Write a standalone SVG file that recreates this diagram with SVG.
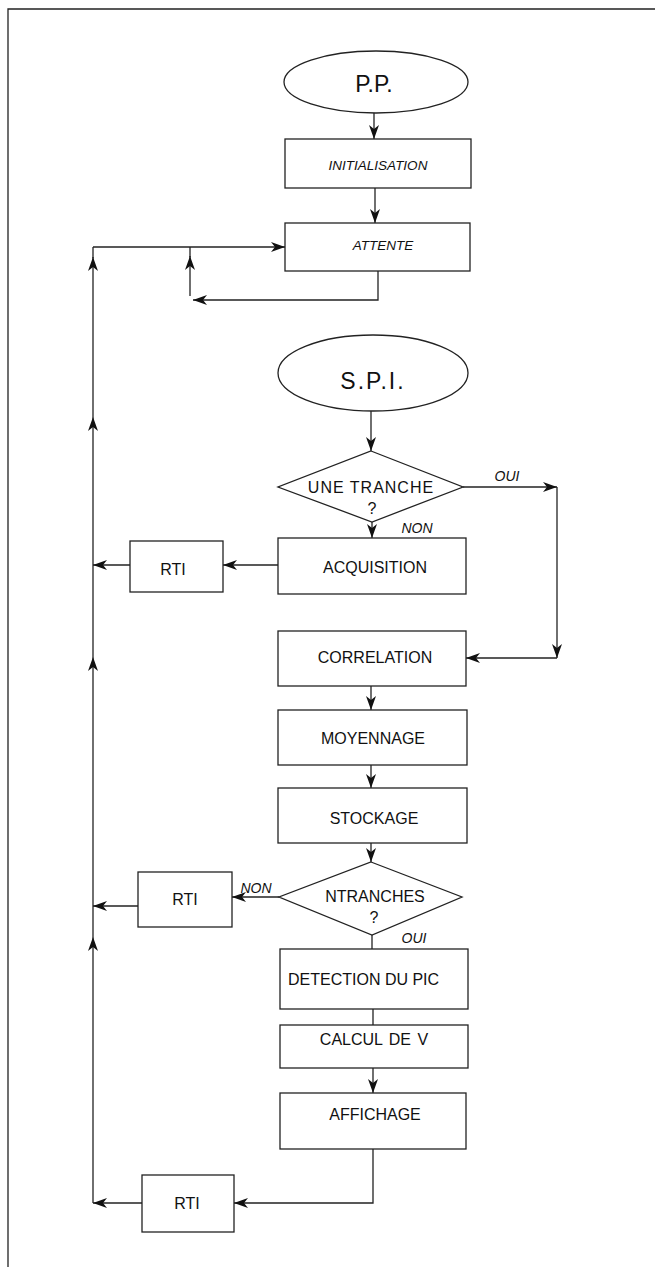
<svg xmlns="http://www.w3.org/2000/svg" width="655" height="1267" viewBox="0 0 655 1267">
<defs>
<marker id="arr" markerWidth="15" markerHeight="11" refX="14" refY="5" orient="auto" markerUnits="userSpaceOnUse">
<path d="M0,0 L14,5 L0,10 L4,5 z" fill="#111"/>
</marker>
<style>
.box{fill:#fff;stroke:#222;stroke-width:1.3}
.ln{fill:none;stroke:#222;stroke-width:1.3}
.ar{fill:none;stroke:#222;stroke-width:1.3;marker-end:url(#arr)}
.t{font-family:"Liberation Sans",Arial,sans-serif;font-size:16px;fill:#111;text-anchor:middle}
.it{font-family:"Liberation Sans",Arial,sans-serif;font-style:italic;font-size:13.5px;fill:#111;text-anchor:middle}
.lbl{font-family:"Liberation Sans",Arial,sans-serif;font-style:italic;font-size:14px;fill:#111;text-anchor:middle}
.big{font-family:"Liberation Sans",Arial,sans-serif;font-size:23px;fill:#111;text-anchor:middle}
</style>
</defs>
<rect width="655" height="1267" fill="#fff"/>
<g id="frame">
<path class="ln" d="M655,9 L8,9 L8,1267" stroke="#555"/>
</g>
<g id="connectors">
<path class="ar" d="M374,113 L374,139"/>
<path class="ar" d="M375,188 L375,223"/>
<path class="ar" d="M378,271 L378,300 L193,300"/>
<path class="ar" d="M190,296 L190,256"/>
<path class="ln" d="M190,257 L190,247"/>
<path class="ar" d="M93,247 L285,247"/>
<path class="ar" d="M93,1203 L93,937"/>
<path class="ar" d="M93,937 L93,657"/>
<path class="ar" d="M93,657 L93,417"/>
<path class="ar" d="M93,417 L93,257"/>
<path class="ln" d="M93,258 L93,247"/>
<path class="ar" d="M371,411 L371,451"/>
<path class="ar" d="M463,487 L557,487"/>
<path class="ar" d="M557,487 L557,658"/>
<path class="ar" d="M557,658 L466,658"/>
<path class="ar" d="M372,522 L372,538"/>
<path class="ar" d="M278,565 L223,565"/>
<path class="ar" d="M130,565 L93,565"/>
<path class="ar" d="M371,686 L371,710"/>
<path class="ar" d="M371,765 L371,788"/>
<path class="ar" d="M371,843 L371,862"/>
<path class="ar" d="M279,897 L232,897"/>
<path class="ar" d="M138,906 L93,906"/>
<path class="ln" d="M372,935 L372,949"/>
<path class="ln" d="M373,1009 L373,1025"/>
<path class="ar" d="M373,1068 L373,1093"/>
<path class="ar" d="M373,1149 L373,1203 L234,1203"/>
<path class="ar" d="M142,1203 L93,1203"/>
</g>
<g id="pp">
<ellipse class="box" cx="376" cy="82" rx="92" ry="31"/>
<text class="big" x="374" y="92">P.P.</text>
</g>
<g id="initialisation">
<rect class="box" x="285" y="139" width="186" height="49"/>
<text class="it" x="378" y="170">INITIALISATION</text>
</g>
<g id="attente">
<rect class="box" x="285" y="223" width="185" height="48"/>
<text class="it" x="383" y="250">ATTENTE</text>
</g>
<g id="spi">
<ellipse class="box" cx="373" cy="373" rx="95" ry="38"/>
<text class="big" x="373" y="389" font-size="24" letter-spacing="2">S.P.I.</text>
</g>
<g id="une-tranche">
<polygon class="box" points="371,451 463,487 372,522 278,487"/>
<text class="t" x="371" y="493" letter-spacing="1">UNE TRANCHE</text>
<text class="t" x="372" y="514" font-size="15">?</text>
<text class="lbl" x="417" y="533">NON</text>
<text class="lbl" x="507" y="481">OUI</text>
</g>
<g id="acquisition">
<rect class="box" x="278" y="538" width="188" height="56"/>
<text class="t" x="375" y="573">ACQUISITION</text>
</g>
<g id="rti1">
<rect class="box" x="130" y="541" width="93" height="51"/>
<text class="t" x="173" y="575">RTI</text>
</g>
<g id="correlation">
<rect class="box" x="278" y="631" width="188" height="55"/>
<text class="t" x="375" y="663">CORRELATION</text>
</g>
<g id="moyennage">
<rect class="box" x="278" y="710" width="189" height="55"/>
<text class="t" x="373" y="744">MOYENNAGE</text>
</g>
<g id="stockage">
<rect class="box" x="278" y="788" width="189" height="55"/>
<text class="t" x="374" y="824">STOCKAGE</text>
</g>
<g id="ntranches">
<polygon class="box" points="371,862 462,897 372,935 279,897"/>
<text class="t" x="375" y="902">NTRANCHES</text>
<text class="t" x="374" y="923" font-size="15">?</text>
<text class="lbl" x="256" y="893">NON</text>
<text class="lbl" x="414" y="943">OUI</text>
</g>
<g id="rti2">
<rect class="box" x="138" y="872" width="94" height="55"/>
<text class="t" x="185" y="905">RTI</text>
</g>
<g id="detection">
<rect class="box" x="280" y="949" width="188" height="60"/>
<text class="t" x="288" y="985" style="text-anchor:start">DETECTION DU PIC</text>
</g>
<g id="calcul">
<rect class="box" x="280" y="1025" width="188" height="43"/>
<text class="t" x="374" y="1045" word-spacing="2">CALCUL DE V</text>
</g>
<g id="affichage">
<rect class="box" x="280" y="1093" width="186" height="56"/>
<text class="t" x="375" y="1120">AFFICHAGE</text>
</g>
<g id="rti3">
<rect class="box" x="142" y="1175" width="92" height="57"/>
<text class="t" x="187" y="1209">RTI</text>
</g>
</svg>
